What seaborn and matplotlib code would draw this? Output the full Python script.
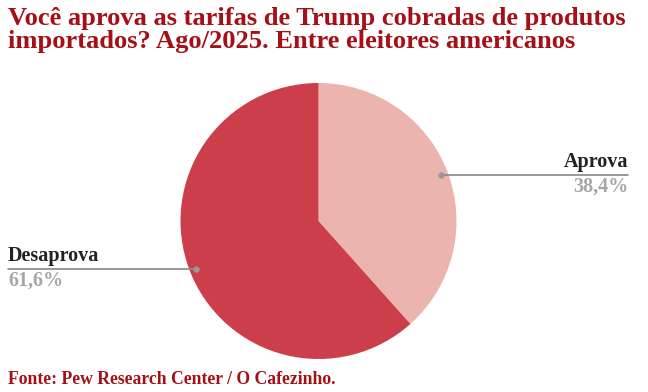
import numpy as np
import matplotlib
matplotlib.use("Agg")
import matplotlib.pyplot as plt
import seaborn as sns

categories = ["Aprova", "Desaprova"]
values = [38.4, 61.6]
value_labels = ["38,4%", "61,6%"]
colors = ["#EBB4AE", "#CC3E4A"]

title = "Você aprova as tarifas de Trump cobradas de produtos\nimportados? Ago/2025. Entre eleitores americanos"
source = "Fonte: Pew Research Center / O Cafezinho."

sns.set_theme(style="white")
plt.rcParams['font.family'] = ['Liberation Serif', 'DejaVu Serif']

W, H = 648, 392
fig = plt.figure(figsize=(W / 100, H / 100), dpi=100)
fig.patch.set_facecolor("white")

cx, cy, r = 318.5, 221, 138
ax = fig.add_axes([(cx - r) / W, 1 - (cy + r) / H, 2 * r / W, 2 * r / H])
wedges, _ = ax.pie(values, colors=colors, startangle=90, counterclock=False,
                   radius=1, wedgeprops=dict(linewidth=0))
ax.set_xlim(-1, 1)
ax.set_ylim(-1, 1)
ax.set_aspect("equal")
ax.axis("off")

fig.text(8 / W, 1 - 7 / H, title, ha="left", va="top", fontsize=19.05,
         fontweight="bold", color="#A50F15", linespacing=0.98)
fig.text(8 / W, 1 - 380 / H, source, ha="left", va="center", fontsize=12.7,
         fontweight="bold", color="#A50F15")

# leader lines
start = 90
cum = 0
label_cfg = {"Aprova": (628, "right"), "Desaprova": (8, "left")}
for cat, val, vl in zip(categories, values, value_labels):
    mid = start - (cum + val / 2) * 3.6
    cum += val
    ang = np.deg2rad(mid)
    px = 0.95 * np.cos(ang)
    py = 0.95 * np.sin(ang)
    dx = cx + px * r
    dy = cy - py * r + 0.8
    xe, ha = label_cfg[cat]
    fig.add_artist(plt.Line2D([dx / W, xe / W], [1 - dy / H, 1 - dy / H],
                              transform=fig.transFigure, color="#888888", lw=1.2))
    fig.add_artist(plt.Line2D([dx / W], [1 - dy / H], transform=fig.transFigure,
                              marker="o", markersize=3.5, color="#999999", lw=0))
    fig.text(xe / W, 1 - (dy - 3) / H, cat, ha=ha, va="bottom", fontsize=14.5,
             fontweight="bold", color="#222222")
    fig.text(xe / W, 1 - (dy + 2) / H, vl, ha=ha, va="top", fontsize=14.5,
             fontweight="bold", color="#A6A6A6")

fig.savefig("out.png", dpi=100, facecolor="white")
